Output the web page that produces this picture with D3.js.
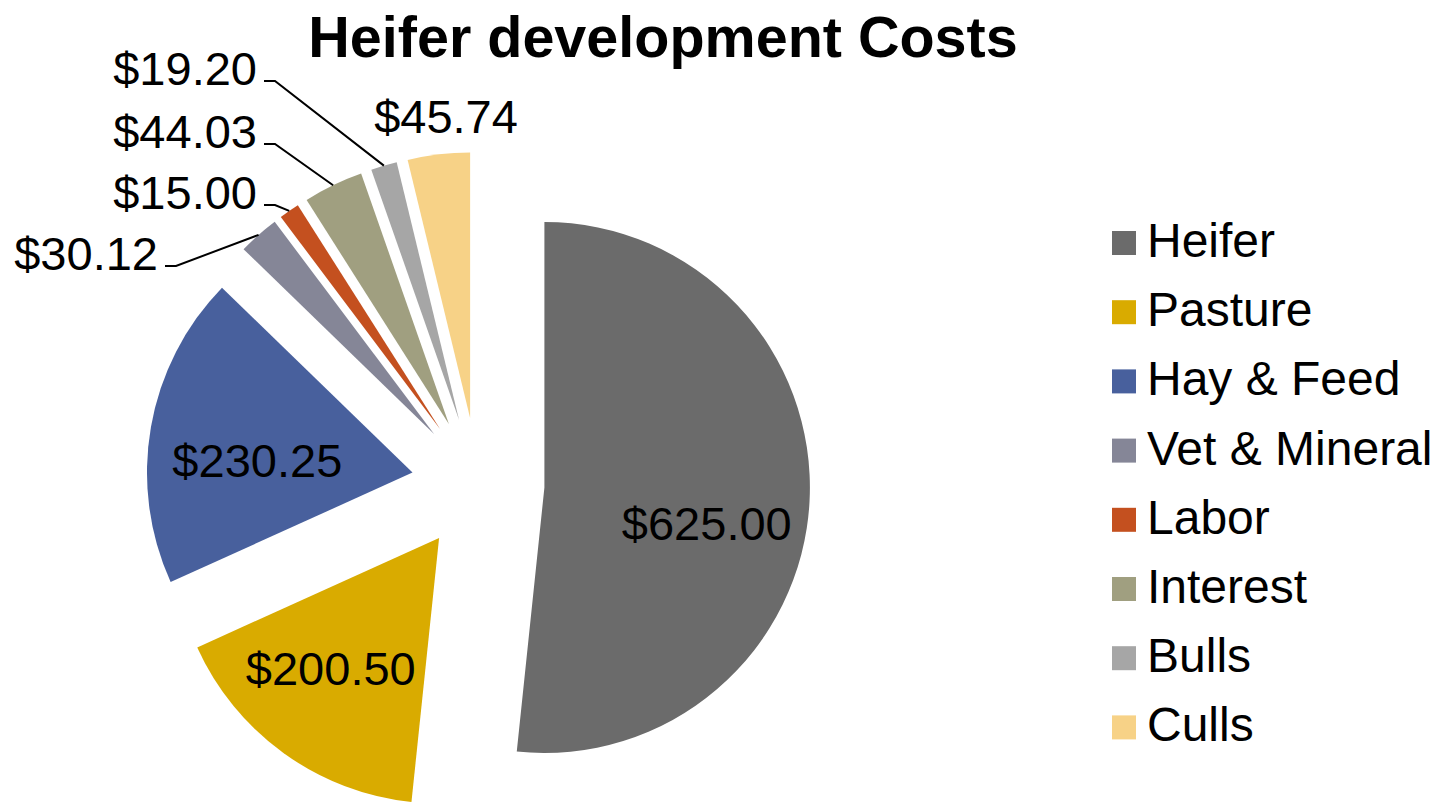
<!DOCTYPE html>
<html>
<head>
<meta charset="utf-8">
<script src="https://cdn.jsdelivr.net/npm/d3@7"></script>
<style>
  body { margin: 0; background: #fff; }
  text { font-family: "Liberation Sans", Arial, sans-serif; }
</style>
</head>
<body>
<div id="area"></div>
<script>
// data
var categories = ["Heifer", "Pasture", "Hay & Feed", "Vet & Mineral", "Labor", "Interest", "Bulls", "Culls"];
var costs = [625.00, 200.50, 230.25, 30.12, 15.00, 44.03, 19.20, 45.74];
var sliceColors = ["#6b6b6b", "#d9ab00", "#48609d", "#858697", "#c4501f", "#a09f80", "#a6a6a6", "#f7d287"];
var chartTitle = "Heifer development Costs";

var width = 1441, height = 802;
var cx = 478, cy = 484, radius = 265.5, explode = 66.5;

// label layout (inside labels get a small nudge, outside ones sit in a column)
var insideNudge = {"Heifer": [-2, 27], "Pasture": [-12, -3], "Hay & Feed": [7, 16]};
var outsideLabels = {
  "Bulls":         {x: 257, y: 85,  leader: true},
  "Interest":      {x: 257, y: 148, leader: true},
  "Labor":         {x: 257, y: 209, leader: true},
  "Vet & Mineral": {x: 158, y: 270, leader: true}
};

var fmt = d3.format("$,.2f");
var color = d3.scaleOrdinal().domain(categories).range(sliceColors);

var svg = d3.select('#area').append('svg')
    .attr('width', width)
    .attr('height', height);

svg.append('text')
    .attr('x', 663)
    .attr('y', 57)
    .attr('text-anchor', 'middle')
    .style('font-size', '57.5px')
    .style('font-weight', 'bold')
    .text(chartTitle);

var pie = d3.pie().sort(null).value(function(d) { return d.value; });
var arc = d3.arc().innerRadius(0).outerRadius(radius);
var labelArc = d3.arc().innerRadius(radius * 0.62).outerRadius(radius * 0.62);

var data = categories.map(function(c, i) { return {name: c, value: costs[i]}; });
var arcs = pie(data);

function mid(d) { return (d.startAngle + d.endAngle) / 2; }
function offset(d, r) { var a = mid(d); return [Math.sin(a) * r, -Math.cos(a) * r]; }

var g = svg.append('g')
    .attr('transform', 'translate(' + cx + ',' + cy + ')');

var slice = g.selectAll('.slice')
    .data(arcs)
    .enter().append('g')
    .attr('class', 'slice')
    .attr('transform', function(d) {
      var o = offset(d, explode);
      return 'translate(' + o[0] + ',' + o[1] + ')';
    });

slice.append('path')
    .attr('d', arc)
    .attr('fill', function(d) { return color(d.data.name); });

// inside labels
slice.filter(function(d) { return insideNudge[d.data.name]; })
  .append('text')
    .attr('transform', function(d) {
      var c = labelArc.centroid(d), n = insideNudge[d.data.name];
      return 'translate(' + (c[0] + n[0]) + ',' + (c[1] + n[1]) + ')';
    })
    .attr('dy', '0.36em')
    .attr('text-anchor', 'middle')
    .style('font-size', '47px')
    .text(function(d) { return fmt(d.data.value); });

// outside labels with leader lines
arcs.forEach(function(d) {
  var pos = outsideLabels[d.data.name];
  var e = offset(d, explode), o = offset(d, radius);
  var ox = cx + e[0] + o[0], oy = cy + e[1] + o[1];
  if (pos) {
    svg.append('text')
        .attr('x', pos.x)
        .attr('y', pos.y)
        .attr('text-anchor', 'end')
        .style('font-size', '47px')
        .text(fmt(d.data.value));
    svg.append('path')
        .attr('d', 'M' + (pos.x + 7) + ',' + (pos.y - 4) + 'h11L' + ox + ',' + oy)
        .attr('fill', 'none')
        .attr('stroke', '#000')
        .attr('stroke-width', 2);
  } else if (!insideNudge[d.data.name]) {
    // outside end, no leader
    var p = offset(d, radius + 39);
    svg.append('text')
        .attr('x', cx + e[0] + p[0] + 12)
        .attr('y', cy + e[1] + p[1])
        .attr('dy', '0.36em')
        .attr('text-anchor', 'middle')
        .style('font-size', '47px')
        .text(fmt(d.data.value));
  }
});

// legend
var legend = svg.selectAll('.legend')
    .data(categories)
    .enter().append('g')
    .attr('class', 'legend')
    .attr('transform', function(d, i) { return 'translate(1112,' + (257 + i * 69.2) + ')'; });

legend.append('rect')
    .attr('x', 0)
    .attr('y', -26)
    .attr('width', 24)
    .attr('height', 24)
    .attr('fill', color);

legend.append('text')
    .attr('x', 35)
    .attr('y', 0)
    .style('font-size', '48px')
    .text(function(d) { return d; });
</script>
</body>
</html>
